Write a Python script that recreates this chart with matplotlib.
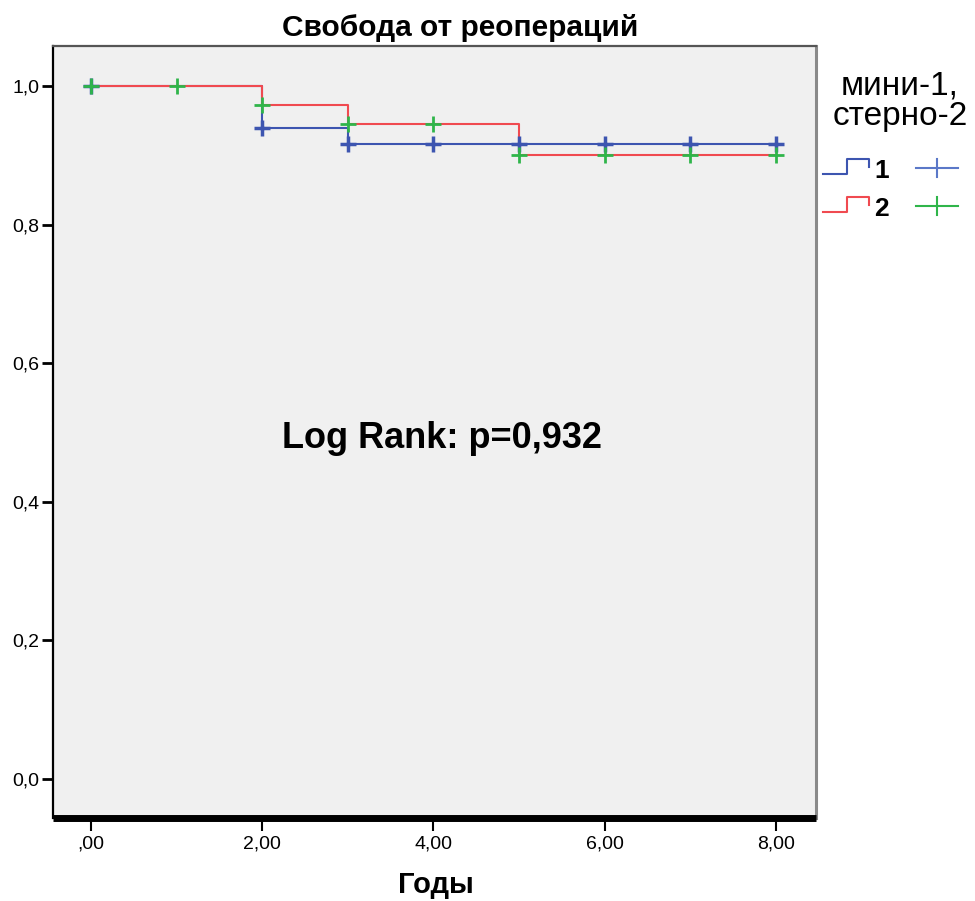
import numpy as np
import matplotlib
matplotlib.use("Agg")
import matplotlib.pyplot as plt
from matplotlib.lines import Line2D

# ---- data ----
times_1 = [0.0, 2.0, 3.0, 8.0]
surv_1 = [1.0, 0.939, 0.917, 0.917]
censor_1 = [0.0, 2.0, 3.0, 4.0, 5.0, 6.0, 7.0, 8.0]

times_2 = [0.0, 2.0, 3.0, 5.0, 8.0]
surv_2 = [1.0, 0.973, 0.945, 0.900, 0.900]
censor_2 = [0.0, 1.0, 2.0, 3.0, 4.0, 5.0, 6.0, 7.0, 8.0]

x_ticks = [0, 2, 4, 6, 8]
x_labels = [",00", "2,00", "4,00", "6,00", "8,00"]
y_ticks = [0.0, 0.2, 0.4, 0.6, 0.8, 1.0]
y_labels = ["0,0", "0,2", "0,4", "0,6", "0,8", "1,0"]

title = "Свобода от реопераций"
xlabel = "Годы"
annot = "Log Rank: p=0,932"
legend_title = "мини-1,\nстерно-2"
groups = ["1", "2"]

BLUE = "#3d55b0"
RED = "#f04a50"
GREEN = "#2fb54a"
LBLUE = "#5b78c8"

sans = ["Liberation Sans", "DejaVu Sans"]


def step_value(times, surv, t):
    idx = np.searchsorted(times, t, side="right") - 1
    return np.asarray(surv)[idx]


fig = plt.figure(figsize=(9.75, 9.01), dpi=100)
ax = fig.add_axes([53 / 975, 1 - 818 / 901, 763 / 975, 772 / 901])
ax.set_facecolor("#f0f0f0")

ax.step(times_1, surv_1, where="post", color=BLUE, lw=1.5, zorder=3)
ax.step(times_2, surv_2, where="post", color=RED, lw=1.5, zorder=3)

c1y = [step_value(times_1, surv_1, t) for t in censor_1]
c2y = [step_value(times_2, surv_2, t) for t in censor_2]
ax.plot(censor_1, c1y, ls="none", marker="+", ms=12, mew=2.5, color=BLUE, zorder=4)
ax.plot(censor_2, c2y, ls="none", marker="+", ms=11, mew=2.0, color=GREEN, zorder=5)

ax.set_xlim(-0.444, 8.47)
ax.set_ylim(-0.0563, 1.0577)
ax.set_xticks(x_ticks)
ax.set_xticklabels(x_labels, fontfamily=sans, fontsize=14)
ax.set_yticks(y_ticks)
ax.set_yticklabels(y_labels, fontfamily=sans, fontsize=14)

ax.tick_params(axis="y", direction="out", length=8, width=2, color="black", pad=2)
ax.tick_params(axis="x", direction="out", length=9.5, width=1.5, color="black", pad=3)

ax.spines["bottom"].set_linewidth(5)
ax.spines["bottom"].set_color("black")
ax.spines["bottom"].set_capstyle("butt")
ax.spines["left"].set_linewidth(1.6)
ax.spines["left"].set_color("black")
ax.spines["top"].set_linewidth(1.6)
ax.spines["top"].set_color("#555555")
ax.spines["right"].set_linewidth(2.2)
ax.spines["right"].set_color("#8a8a8a")

fig.text(460 / 975, 1 - 27.5 / 901, title, ha="center", va="center",
         fontfamily=sans, fontweight="bold", fontsize=21.5)
fig.text(436 / 975, 1 - 885 / 901, xlabel, ha="center", va="center",
         fontfamily=sans, fontweight="bold", fontsize=21)
fig.text(441.5 / 975, 1 - 438 / 901, annot, ha="center", va="center",
         fontfamily=sans, fontweight="bold", fontsize=26)

# legend (manual, SPSS style)
fig.text(900 / 975, 1 - 101 / 901, legend_title, ha="center", va="center",
         fontfamily=sans, fontsize=24, linespacing=0.98)

line_cols = [BLUE, RED]
mark_cols = [LBLUE, GREEN]
for i, g in enumerate(groups):
    yb = 174 + 38 * i
    xs = np.array([823, 847, 847, 869, 869]) / 975
    ys = 1 - np.array([yb, yb, yb - 15, yb - 15, yb - 7]) / 901
    fig.add_artist(Line2D(xs, ys, color=line_cols[i], lw=1.5))
    fig.text(874 / 975, 1 - (yb - 3) / 901, g, ha="left", va="center",
             fontfamily=sans, fontweight="bold", fontsize=19)
    cx, cy = 937, yb - 6
    fig.add_artist(Line2D([(cx - 21) / 975, (cx + 21) / 975], [1 - cy / 901] * 2,
                          color=mark_cols[i], lw=1.5))
    fig.add_artist(Line2D([cx / 975] * 2, [1 - (cy - 9) / 901, 1 - (cy + 9) / 901],
                          color=mark_cols[i], lw=1.5))

fig.savefig("out.png", dpi=100)
